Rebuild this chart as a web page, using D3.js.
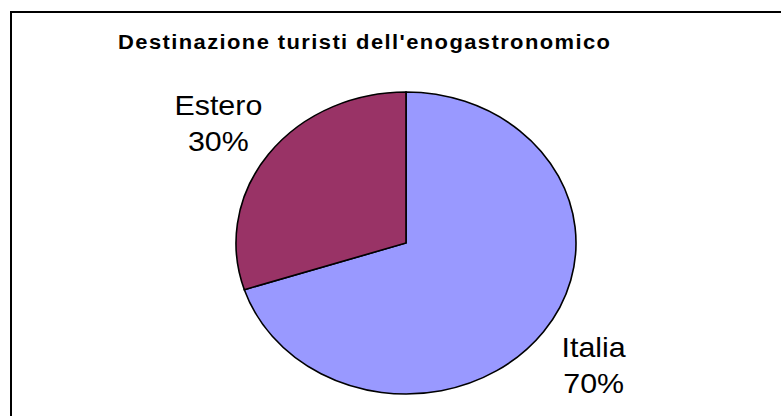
<!DOCTYPE html>
<html>
<head>
<meta charset="utf-8">
<script src="https://cdn.jsdelivr.net/npm/d3@7"></script>
<style>
  body { margin: 0; background: #fff; }
  text { font-family: Arial, "Liberation Sans", sans-serif; fill: #000; }
</style>
</head>
<body>
<svg width="781" height="416"></svg>
<script>
var svg = d3.select("svg"),
    width = +svg.attr("width"),
    height = +svg.attr("height");

// data
var title = "Destinazione turisti dell'enogastronomico";
var categories = ["Italia", "Estero"];
var values = [70, 30];
var colors = ["#9999ff", "#993366"];

// the source picture is stretched horizontally
var sx = 170 / 151;
var cx = 406, cy = 243, r = 151;

var color = d3.scaleOrdinal().domain(categories).range(colors);

svg.append("rect")
    .attr("x", 11).attr("y", 12)
    .attr("width", 820).attr("height", 440)
    .attr("fill", "#fff")
    .attr("stroke", "#000")
    .attr("stroke-width", 2);

svg.append("text")
    .attr("transform", "translate(364,49) scale(" + sx + ",1)")
    .attr("text-anchor", "middle")
    .attr("textLength", 492 / sx)
    .attr("lengthAdjust", "spacing")
    .style("font-weight", "bold")
    .style("font-size", "19.5px")
    .text(title);

var pie = d3.pie().sort(null).value(function(d) { return d.value; });
var data = pie(categories.map(function(c, i) { return { name: c, value: values[i] }; }));

var arc = d3.arc().innerRadius(0).outerRadius(r);
var labelArc = d3.arc().innerRadius(206).outerRadius(206);

var g = svg.append("g")
    .attr("transform", "translate(" + cx + "," + cy + ") scale(" + sx + ",1)");

g.selectAll("path")
    .data(data)
    .enter().append("path")
      .attr("d", arc)
      .attr("fill", function(d) { return color(d.data.name); })
      .attr("stroke", "#000")
      .attr("stroke-width", 1.6)
      .attr("vector-effect", "non-scaling-stroke");

var total = d3.sum(values);
var labels = svg.append("g").selectAll("text")
    .data(data)
    .enter().append("text")
      .attr("transform", function(d) {
        var c = labelArc.centroid(d);
        return "translate(" + (cx + c[0] * sx) + "," + (cy + c[1]) + ") scale(" + sx + ",1)";
      })
      .attr("text-anchor", "middle")
      .style("font-size", "27px");

labels.append("tspan")
    .attr("x", 0).attr("y", -7)
    .text(function(d) { return d.data.name; });
labels.append("tspan")
    .attr("x", 0).attr("y", 29)
    .text(function(d) { return Math.round(d.data.value / total * 100) + "%"; });
</script>
</body>
</html>
